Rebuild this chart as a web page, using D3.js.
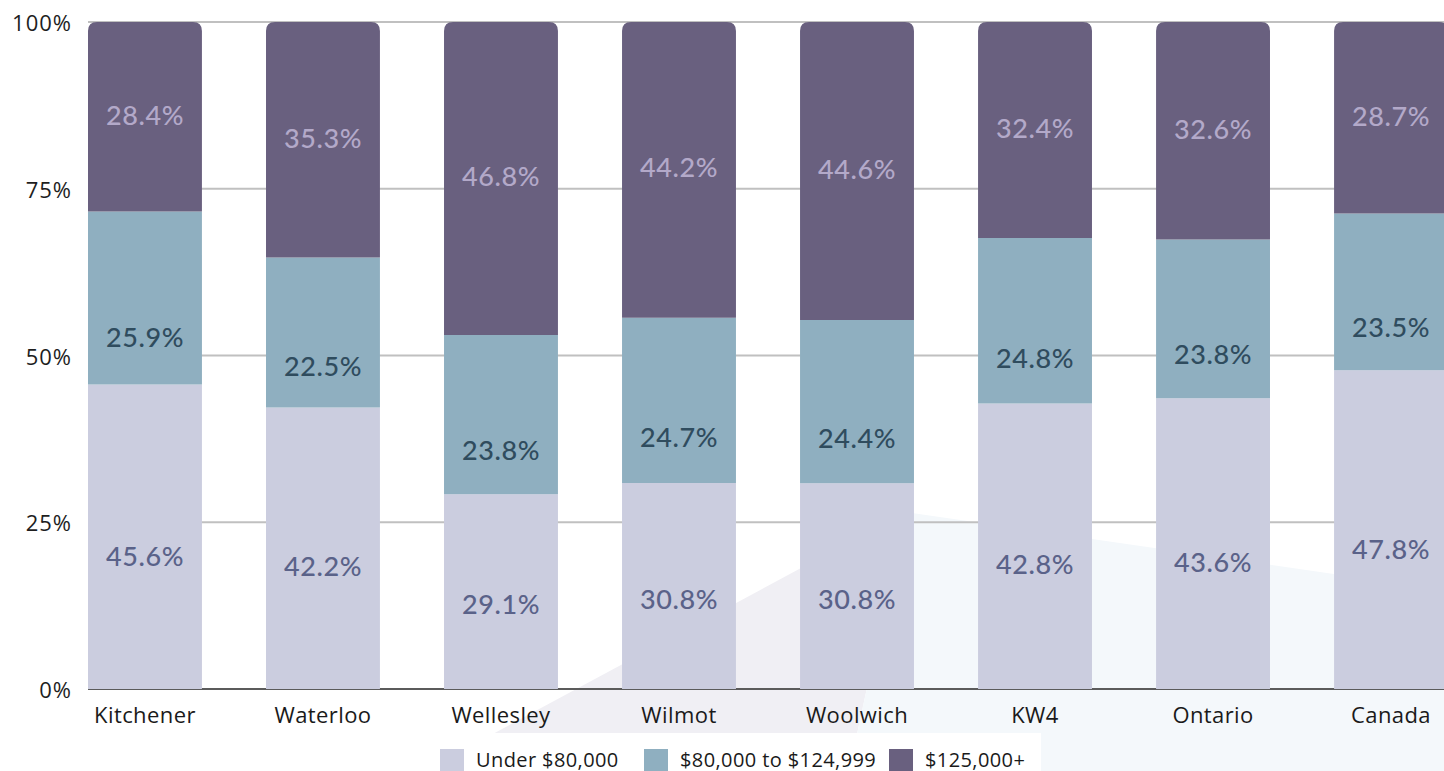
<!DOCTYPE html>
<html>
<head>
<meta charset="utf-8">
<script src="https://cdn.jsdelivr.net/npm/d3@7"></script>
<style>
  html, body { margin: 0; padding: 0; background: #ffffff; overflow: hidden; }
  svg { display: block; }
</style>
</head>
<body>
<svg id="chart" width="1444" height="771"></svg>
<script>
// ---- data ----
const categories = ["Kitchener", "Waterloo", "Wellesley", "Wilmot", "Woolwich", "KW4", "Ontario", "Canada"];
const seriesNames = ["Under $80,000", "$80,000 to $124,999", "$125,000+"];
const under80k = [45.6, 42.2, 29.1, 30.8, 30.8, 42.8, 43.6, 47.8];
const mid80to125k = [25.9, 22.5, 23.8, 24.7, 24.4, 24.8, 23.8, 23.5];
const over125k = [28.4, 35.3, 46.8, 44.2, 44.6, 32.4, 32.6, 28.7];
const yTicks = [0, 0.25, 0.5, 0.75, 1];
const yTickLabels = ["0%", "25%", "50%", "75%", "100%"];

// ---- styles ----
const segColors = ["#cbcddf", "#8fafc0", "#69607f"];
const labelColors = ["#5a6289", "#2f4c5e", "#b3a9c9"];
const labelFrac = [0.56, 0.72, 0.49]; // vertical position of label within segment (from top)
const labelFont = "Lato, 'Open Sans', sans-serif";
const axisFont = "'Open Sans', 'Noto Sans', sans-serif";

const svg = d3.select("#chart");

// background decoration
svg.append("polygon").attr("points", "424,771 905,512 849,771").attr("fill", "#f0eff4");
svg.append("polygon").attr("points", "905,512 1444,590 1444,771 849,771").attr("fill", "#f4f8fb");

const rows = categories.map((c, i) => ({ cat: c, s0: under80k[i], s1: mid80to125k[i], s2: over125k[i] }));
const stack = d3.stack().keys(["s0", "s1", "s2"]).offset(d3.stackOffsetExpand);
const stacked = stack(rows);

const x = d3.scaleBand().domain(categories).range([88, 1448]).paddingInner(0.36).paddingOuter(0);
const y = d3.scaleLinear().domain([0, 1]).range([689, 22]);

// gridlines
svg.append("g").selectAll("line").data(yTicks).join("line")
  .attr("x1", 88).attr("x2", 1444)
  .attr("y1", d => y(d)).attr("y2", d => y(d))
  .attr("stroke", d => d === 0 ? "#5b5b5b" : "#c0c0c0")
  .attr("stroke-width", 2);

// y tick labels
svg.append("g").selectAll("text").data(yTicks).join("text")
  .attr("x", 72).attr("y", d => y(d))
  .attr("text-anchor", "end").attr("dominant-baseline", "central")
  .attr("font-family", axisFont).attr("font-size", 22).attr("letter-spacing", 1).attr("fill", "#1e1e1e")
  .text((d, i) => yTickLabels[i]);

// bars
function segPath(x0, w, yTop, yBot, r) {
  const p = d3.path();
  if (r > 0) {
    p.moveTo(x0, yBot);
    p.lineTo(x0, yTop + r);
    p.quadraticCurveTo(x0, yTop, x0 + r, yTop);
    p.lineTo(x0 + w - r, yTop);
    p.quadraticCurveTo(x0 + w, yTop, x0 + w, yTop + r);
    p.lineTo(x0 + w, yBot);
    p.closePath();
  } else {
    p.rect(x0, yTop, w, yBot - yTop);
  }
  return p.toString();
}

stacked.forEach((layer, li) => {
  const g = svg.append("g");
  g.selectAll("path").data(layer).join("path")
    .attr("d", d => segPath(x(d.data.cat), x.bandwidth(), y(d[1]), y(d[0]), li === 2 ? 9 : 0))
    .attr("fill", segColors[li]);
  const raw = [under80k, mid80to125k, over125k][li];
  g.selectAll("text").data(layer).join("text")
    .attr("x", d => x(d.data.cat) + x.bandwidth() / 2)
    .attr("y", d => y(d[1]) + (y(d[0]) - y(d[1])) * labelFrac[li])
    .attr("text-anchor", "middle").attr("dominant-baseline", "central")
    .attr("font-family", labelFont).attr("font-size", 27).attr("font-weight", 500)
    .attr("letter-spacing", 0.6)
    .attr("fill", labelColors[li])
    .text((d, i) => raw[i].toFixed(1) + "%");
});

// category labels
svg.append("g").selectAll("text").data(categories).join("text")
  .attr("x", d => x(d) + x.bandwidth() / 2).attr("y", 714)
  .attr("text-anchor", "middle").attr("dominant-baseline", "central")
  .attr("font-family", axisFont).attr("font-size", 22).attr("letter-spacing", 0.4).attr("fill", "#1a1a1a")
  .text(d => d);

// legend
svg.append("rect").attr("x", 400).attr("y", 733).attr("width", 641).attr("height", 38).attr("fill", "#ffffff");
const legendX = [440, 644, 889];
const lg = svg.append("g");
seriesNames.forEach((name, i) => {
  lg.append("rect").attr("x", legendX[i]).attr("y", 749).attr("width", 24).attr("height", 23).attr("fill", segColors[i]);
  lg.append("text").attr("x", legendX[i] + 36).attr("y", 759)
    .attr("dominant-baseline", "central")
    .attr("font-family", axisFont).attr("font-size", 20).attr("letter-spacing", 0.4).attr("fill", "#1a1a1a")
    .text(name);
});
</script>
</body>
</html>
